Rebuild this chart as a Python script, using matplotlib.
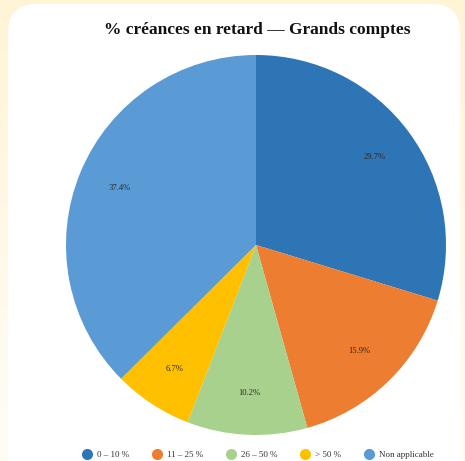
import matplotlib
matplotlib.use("Agg")
import matplotlib.pyplot as plt
import numpy as np
from matplotlib.patches import FancyBboxPatch
from matplotlib.lines import Line2D

categories = ["0 – 10 %", "11 – 25 %", "26 – 50 %", "> 50 %", "Non applicable"]
values = [29.7, 15.9, 10.2, 6.7, 37.4]
colors = ["#2e75b6", "#ed7d31", "#a9d18e", "#ffc000", "#5b9bd5"]
title = "% créances en retard — Grands comptes"

plt.rcParams['font.family'] = ['Liberation Serif', 'DejaVu Serif']

W, H = 465, 461
fig = plt.figure(figsize=(W / 100, H / 100), dpi=100)

# background gradient
bg = fig.add_axes([0, 0, 1, 1])
grad = np.linspace(0, 1, 256).reshape(-1, 1)
c_top = np.array([255, 244, 214]) / 255
c_bot = np.array([255, 253, 247]) / 255
img = c_top[None, None, :] * (1 - grad[:, :, None]) + c_bot[None, None, :] * grad[:, :, None]
bg.imshow(img, aspect='auto', extent=[0, W, H, 0])
bg.set_xlim(0, W)
bg.set_ylim(H, 0)
bg.axis('off')
card = FancyBboxPatch((8, 4), 452, H + 30, boxstyle="round,pad=0,rounding_size=28",
                      facecolor="white", edgecolor="none")
bg.add_patch(card)

fig.text(257 / W, 1 - 30 / H, title, ha='center', va='center', fontsize=12.5, fontweight='bold', color='#111111')

cx, cy, r = 256, 245, 190
ax = fig.add_axes([(cx - r) / W, (H - cy - r) / H, 2 * r / W, 2 * r / H])
wedges, texts, autotexts = ax.pie(values, colors=colors, startangle=90, counterclock=False,
                                  radius=1, autopct=lambda p: f"{p:.1f}%", pctdistance=0.78,
                                  wedgeprops=dict(linewidth=0))
for t in autotexts:
    t.set_fontsize(6.2)
    t.set_color('#2a2a2a')
ax.set_xlim(-1, 1)
ax.set_ylim(-1, 1)
ax.set_aspect('equal')
ax.axis('off')

handles = [Line2D([0], [0], marker='o', linestyle='none', markersize=8,
                  markerfacecolor=c, markeredgecolor='none') for c in colors]
leg = fig.legend(handles, categories, loc='center', bbox_to_anchor=(258 / W, 1 - 455 / H),
                 ncol=5, frameon=False, fontsize=6.5, handletextpad=0.6, columnspacing=2.6,
                 handlelength=1.0)
for t in leg.get_texts():
    t.set_color('#333333')

fig.savefig("out.png", dpi=100)
